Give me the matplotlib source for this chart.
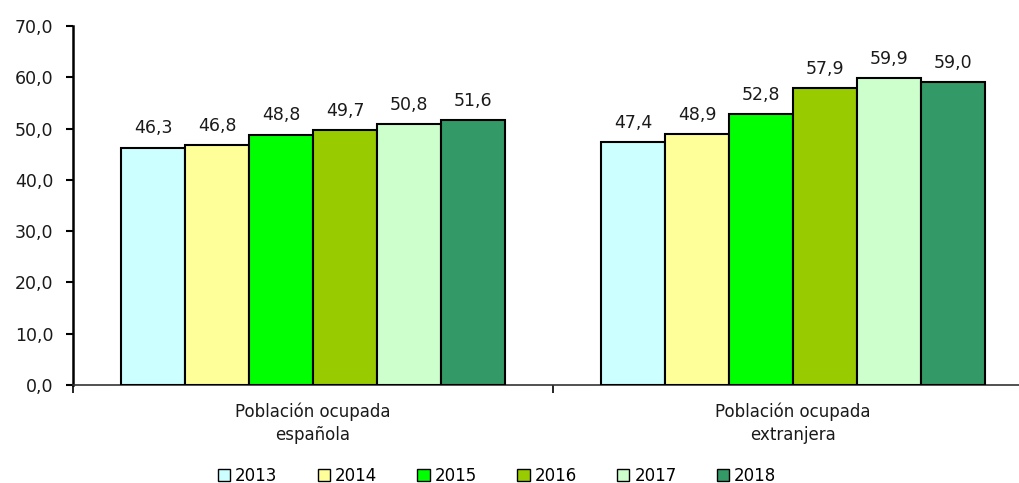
import matplotlib
matplotlib.use("Agg")
import matplotlib.pyplot as plt
import numpy as np

categories = ["Población ocupada\nespañola", "Población ocupada\nextranjera"]
years = ["2013", "2014", "2015", "2016", "2017", "2018"]
values = {
    "2013": [46.3, 47.4],
    "2014": [46.8, 48.9],
    "2015": [48.8, 52.8],
    "2016": [49.7, 57.9],
    "2017": [50.8, 59.9],
    "2018": [51.6, 59.0],
}
colors = ["#CCFFFF", "#FFFF99", "#00FF00", "#99CC00", "#CCFFCC", "#339966"]

plt.rcParams['font.family'] = ['DejaVu Sans']
fig = plt.figure(figsize=(10.19, 4.83), dpi=100)
ax = fig.add_axes([73/1019, 1-385/483, 960/1019, 359/483])

n = len(years)
group_w = 0.8
bw = group_w / n
x = np.arange(len(categories))
for i, y in enumerate(years):
    pos = x - group_w/2 + bw*(i+0.5)
    ax.bar(pos, values[y], width=bw, color=colors[i], edgecolor="black",
           linewidth=1.5, label=y, zorder=3)
    for p, v in zip(pos, values[y]):
        ax.text(p, v + 2.0, f"{v:.1f}".replace(".", ","), ha="center", va="bottom",
                fontsize=12.5, color="#1a1a1a")

ax.set_xlim(-0.5, 1.5)
ax.set_ylim(0, 70)
ax.set_yticks(np.arange(0, 71, 10))
ax.set_yticklabels([f"{v:.1f}".replace(".", ",") for v in np.arange(0, 71, 10)],
                   fontsize=12.5, color="#1a1a1a")
ax.set_xticks([-0.5, 0.5, 1.5])
ax.set_xticklabels([])
ax.tick_params(axis="y", direction="out", length=5, width=1.5, pad=9)
ax.tick_params(axis="x", direction="out", length=6, width=1.2)
for xi, c in zip(x, categories):
    ax.text(xi, -3.5, c, ha="center", va="top", fontsize=12, color="#1a1a1a",
            linespacing=1.35)

ax.spines["top"].set_visible(False)
ax.spines["right"].set_visible(False)
ax.spines["left"].set_linewidth(1.8)
ax.spines["bottom"].set_linewidth(1.2)
ax.spines["bottom"].set_color("#333333")

leg = fig.legend(loc="center", bbox_to_anchor=(497/1019, 1-476/483), ncol=6,
                 frameon=False, fontsize=12, handlelength=0.75, handleheight=0.75,
                 handletextpad=0.3, columnspacing=2.4)
for h in leg.legend_handles:
    h.set_linewidth(1.0)

fig.savefig("out.png", dpi=100)
